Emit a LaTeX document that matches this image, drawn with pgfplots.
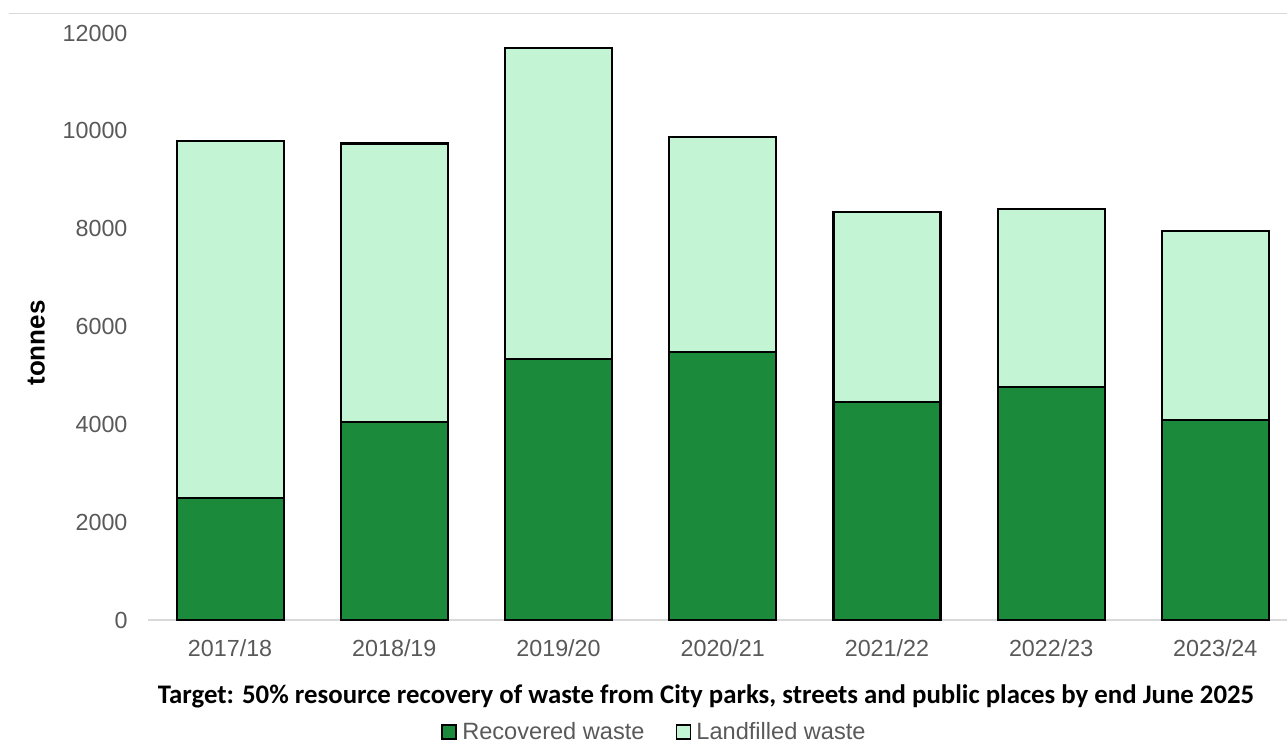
\documentclass[border=0pt]{standalone}
\usepackage{pgfplots}
\pgfplotsset{compat=1.18}
\usepackage{fontspec}
\setmainfont{Liberation Sans}
\newfontfamily\calibri{Carlito}
\definecolor{darkg}{HTML}{1B8A3A}
\definecolor{lightg}{HTML}{C3F4D3}
\definecolor{txtgray}{HTML}{595959}
\definecolor{axgray}{HTML}{D9D9D9}
\begin{document}
\begin{tikzpicture}[x=1pt,y=1pt]
\useasboundingbox (0,0) rectangle (1287,743);
\draw[axgray, line width=1pt] (9,729) -- (1287,729);
\begin{axis}[
  at={(148pt,123pt)}, anchor=south west,
  scale only axis, width=1139pt, height=587pt,
  ybar stacked, bar width=107pt,
  xmin=-0.5, xmax=6.437, ymin=0, ymax=12000,
  xtick=data, xticklabels={2017/18,2018/19,2019/20,2020/21,2021/22,2022/23,2023/24},
  ytick={0,2000,...,12000},
  scaled y ticks=false,
  axis y line*=left, axis x line*=bottom,
  y axis line style={draw=none},
  x axis line style={axgray, line width=1.2pt, -},
  ytick style={draw=none}, xtick style={draw=none},
  major tick length=0pt,
  /pgf/number format/assume math mode=true,
  /pgf/number format/1000 sep={},
  tick label style={font=\fontsize{23.3}{27}\selectfont, text=txtgray},
  yticklabel style={anchor=east, xshift=-17pt},
  xticklabel style={anchor=north, yshift=-16pt},
  ylabel={\bfseries tonnes},
  ylabel style={font=\fontsize{26}{30}\selectfont, at={(axis description cs:-0.098,0.4719)}, anchor=center},
  legend columns=2,
  legend style={draw=none, fill=none, at={(axis description cs:0.4447,-0.1908)}, anchor=center,
    font=\fontsize{23.6}{27}\selectfont, text=txtgray,
    /tikz/every even column/.append style={column sep=29pt}},
  legend image code/.code={\draw[#1, draw=black, line width=1.4pt] (0pt,-7pt) rectangle (14pt,7pt); \path (17pt,0pt);},
  clip=false,
]
\addplot[fill=darkg, draw=black, line width=2.2pt] coordinates {(0,2500) (1,4050) (2,5340) (3,5480) (4,4460) (5,4770) (6,4090)};
\addlegendentry{Recovered waste}
\addplot[fill=lightg, draw=black, line width=2.2pt] coordinates {(0,7300) (1,5690) (2,6360) (3,4400) (4,3880) (5,3635) (6,3865)};
\addlegendentry{Landfilled waste}
\node[font=\calibri\bfseries\fontsize{26.8}{30}\selectfont, anchor=center] at (axis description cs:0.49,-0.1295) {Target: 50\% resource recovery of waste from City parks, streets and public places by end June 2025};
\end{axis}
\end{tikzpicture}
\end{document}
